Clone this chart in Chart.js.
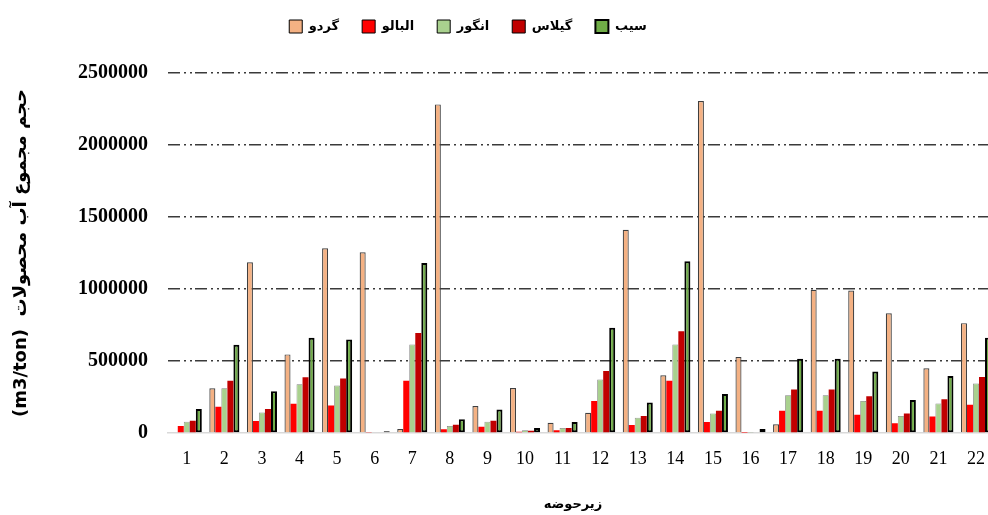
<!DOCTYPE html>
<html><head><meta charset="utf-8">
<script src="https://cdn.jsdelivr.net/npm/chart.js@4/dist/chart.umd.min.js"></script>
<style>
html,body{margin:0;padding:0;background:#fff;overflow:hidden;width:988px;height:515px}
#wrap{width:1000px;height:515px;position:relative}
</style></head>
<body><div id="wrap"><canvas id="c" width="1000" height="515"></canvas></div>
<script>
const categories = ['1','2','3','4','5','6','7','8','9','10','11','12','13','14','15','16','17','18','19','20','21','22'];
const seriesNames = ['گردو','البالو','انگور','گیلاس','سیب'];
const walnut      = [0, 311000, 1185000, 546000, 1283000, 1255000, 28000, 2282000, 187000, 313000, 71000, 140000, 1411000, 401000, 2305000, 528000, 60000, 994000, 989000, 832000, 450000, 763000];
const sourCherry  = [48000, 182000, 83000, 203000, 191000, 3000, 362000, 26000, 44000, 9000, 19000, 223000, 55000, 362000, 76000, 1000, 154000, 154000, 127000, 67000, 115000, 196000];
const grape       = [78000, 311000, 143000, 339000, 330000, 5000, 615000, 48000, 78000, 19000, 35000, 371000, 106000, 615000, 136000, 2000, 263000, 263000, 223000, 118000, 205000, 344000];
const cherry      = [85000, 362000, 166000, 387000, 378000, 5000, 694000, 57000, 85000, 15000, 35000, 431000, 118000, 707000, 154000, 5000, 302000, 302000, 256000, 136000, 235000, 389000];
const apple       = [166000, 613000, 290000, 662000, 650000, 12000, 1181000, 95000, 164000, 35000, 76000, 731000, 212000, 1192000, 270000, 28000, 516000, 516000, 427000, 230000, 396000, 662000];
const yTickValues = [0, 500000, 1000000, 1500000, 2000000, 2500000];
const yAxisTitle = '(m3/ton)  حجم مجموع آب محصولات';
const xAxisTitle = 'زیرحوضه';

const legendShift = {
  id: 'legendShift',
  afterLayout(chart) {
    const l = chart.legend; if (!l) return;
    const dx = -32;
    l.left += dx; l.right += dx;
    const dy = -3 - l.top;
    l.top += dy; l.bottom += dy;
  }
};
const xTitlePlugin = {
  id: 'xTitlePlugin',
  afterDraw(chart) {
    const ctx = chart.ctx;
    ctx.save();
    ctx.font = 'bold 13px "DejaVu Sans"';
    ctx.fillStyle = '#000';
    ctx.textAlign = 'center';
    ctx.textBaseline = 'middle';
    ctx.fillText(xAxisTitle, 573, 505);
    ctx.restore();
  }
};

new Chart(document.getElementById('c'), {
  type: 'bar',
  data: {
    labels: categories,
    datasets: [
      {label: seriesNames[0], data: walnut, backgroundColor: '#F4B183', borderColor: '#3f3f3f', borderWidth: 1.2},
      {label: seriesNames[1], data: sourCherry, backgroundColor: '#FF0000', borderColor: '#FF0000', borderWidth: 0},
      {label: seriesNames[2], data: grape, backgroundColor: '#A9D18E', borderColor: '#7f7f7f', borderWidth: 0.75},
      {label: seriesNames[3], data: cherry, backgroundColor: '#C00000', borderColor: '#C00000', borderWidth: 0},
      {label: seriesNames[4], data: apple, backgroundColor: '#70AD47', borderColor: '#000000', borderWidth: 2, borderSkipped: false}
    ]
  },
  options: {
    responsive: false,
    animation: false,
    layout: {padding: {top: 27, left: 0, right: 0, bottom: 0}},
    datasets: {bar: {categoryPercentage: 0.8, barPercentage: 1.0}},
    plugins: {
      tooltip: {enabled: false},
      legend: {
        position: 'top',
        labels: {
          boxWidth: 13, boxHeight: 13, padding: 23, color: '#000',
          font: {family: '"DejaVu Sans"', size: 13, weight: 'bold'},
          generateLabels(chart) {
            const items = Chart.defaults.plugins.legend.labels.generateLabels(chart);
            items.forEach((it, i) => { it.strokeStyle = '#000'; it.lineWidth = i === 4 ? 2 : 1; });
            return items;
          }
        }
      }
    },
    scales: {
      x: {
        grid: {display: false, drawTicks: false},
        border: {display: true, color: '#d9d9d9', width: 1.5},
        ticks: {color: '#000', padding: 15, font: {family: '"Liberation Serif"', size: 18}, maxRotation: 0, autoSkip: false},
        afterFit(scale) { scale.height = 82; }
      },
      y: {
        min: 0, max: 2500000,
        afterBuildTicks(scale) { scale.ticks = yTickValues.map(v => ({value: v})); },
        grid: {
          drawTicks: false, lineWidth: 1.5,
          color: ctx => (ctx.tick && ctx.tick.value === 0) ? 'rgba(0,0,0,0)' : '#3a3a3a'
        },
        border: {display: false, dash: [12, 4, 2, 4, 2, 3]},
        ticks: {color: '#000', padding: 20, font: {family: '"Liberation Serif"', size: 20, weight: 'bold'}, callback: v => String(v)},
        title: {display: true, text: yAxisTitle, color: '#000', padding: {top: 11, bottom: 0}, font: {family: '"DejaVu Sans"', size: 18, weight: 'bold'}},
        afterFit(scale) { scale.width = 168; }
      }
    }
  },
  plugins: [legendShift, xTitlePlugin]
});
</script>
</body></html>
